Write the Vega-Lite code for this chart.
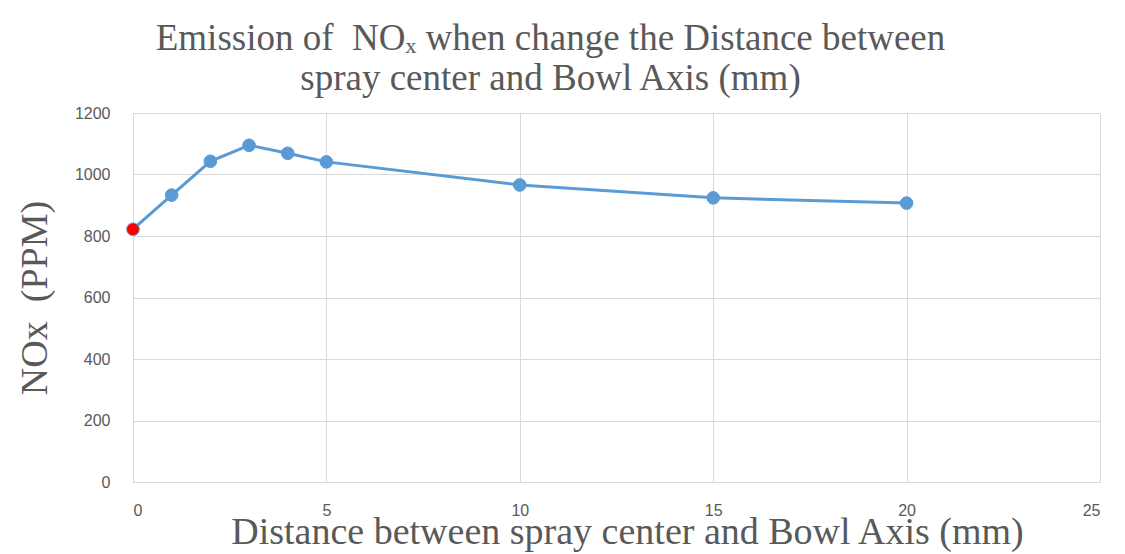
{
  "$schema": "https://vega.github.io/schema/vega-lite/v6.json",
  "width": 967,
  "height": 369,
  "autosize": "none",
  "padding": {"left": 133, "top": 113, "right": 25, "bottom": 72},
  "background": "white",
  "title": {
    "text": ["Emission of \u00a0NOₓ when change the Distance between", "spray center and Bowl Axis (mm)"],
    "font": "Liberation Serif",
    "fontSize": 37,
    "fontWeight": "normal",
    "color": "#595959",
    "lineHeight": 40,
    "baseline": "bottom",
    "offset": -30,
    "dx": -66,
    "anchor": "middle"
  },
  "data": {
    "values": [
      {"distance": 0, "nox": 822, "case": "baseline"},
      {"distance": 1, "nox": 933, "case": "modified"},
      {"distance": 2, "nox": 1043, "case": "modified"},
      {"distance": 3, "nox": 1095, "case": "modified"},
      {"distance": 4, "nox": 1069, "case": "modified"},
      {"distance": 5, "nox": 1041, "case": "modified"},
      {"distance": 10, "nox": 966, "case": "modified"},
      {"distance": 15, "nox": 924, "case": "modified"},
      {"distance": 20, "nox": 907, "case": "modified"}
    ]
  },
  "config": {
    "view": {"stroke": null},
    "axis": {
      "labelFont": "Liberation Sans",
      "labelFontSize": 16,
      "labelColor": "#595959",
      "titleFont": "Liberation Serif",
      "titleFontWeight": "normal",
      "titleColor": "#595959",
      "titleFontSize": 38,
      "gridColor": "#D9D9D9",
      "gridWidth": 1,
      "ticks": false,
      "domainColor": "#D9D9D9"
    }
  },
  "encoding": {
    "x": {
      "field": "distance",
      "type": "quantitative",
      "scale": {"domain": [0, 25], "nice": false},
      "axis": {
        "values": [0, 5, 10, 15, 20, 25],
        "format": "d",
        "title": "Distance between spray center and Bowl Axis (mm)",
        "labelPadding": 20,
        "titlePadding": -5,
        "titleX": 494
      }
    },
    "y": {
      "field": "nox",
      "type": "quantitative",
      "scale": {"domain": [0, 1200], "nice": false},
      "axis": {
        "values": [0, 200, 400, 600, 800, 1000, 1200],
        "format": "d",
        "title": "NOx\u00a0 (PPM)",
        "labelPadding": 23,
        "titlePadding": 20,
        "domain": false
      }
    }
  },
  "layer": [
    {
      "mark": {"type": "line", "color": "#5B9BD5", "strokeWidth": 3}
    },
    {
      "mark": {"type": "point", "filled": true, "size": 160, "stroke": "#5B9BD5", "strokeWidth": 1, "opacity": 1},
      "encoding": {
        "color": {
          "field": "case",
          "type": "nominal",
          "scale": {"domain": ["baseline", "modified"], "range": ["#FF0000", "#5B9BD5"]},
          "legend": null
        }
      }
    }
  ]
}
